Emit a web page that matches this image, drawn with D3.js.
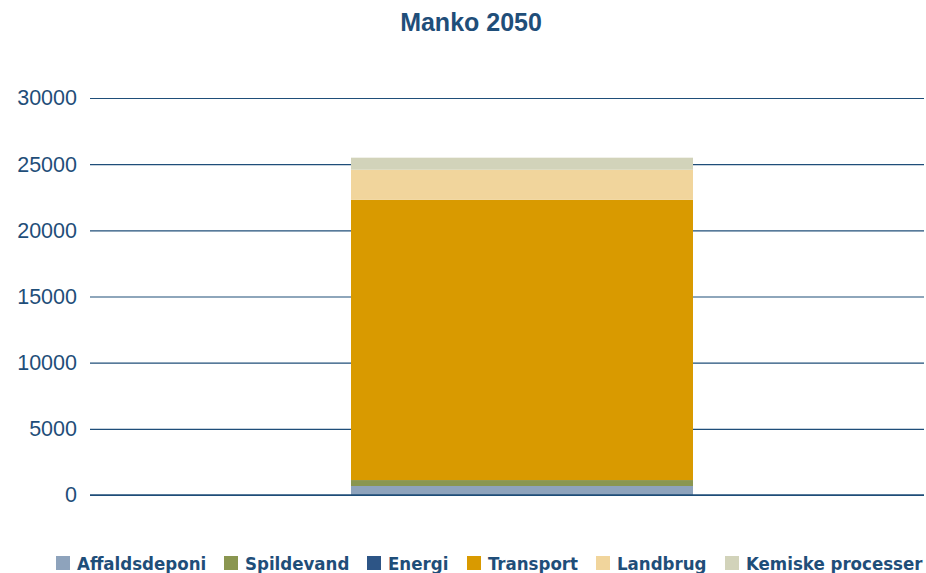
<!DOCTYPE html>
<html><head><meta charset="utf-8">
<script src="https://cdn.jsdelivr.net/npm/d3@7"></script>
<style>body{margin:0;background:#fff;} svg{display:block;}</style>
</head><body>
<svg id="c" width="926" height="573"></svg>
<script>
const categories = ["2050"];
const seriesNames = ["Affaldsdeponi","Spildevand","Energi","Transport","Landbrug","Kemiske processer"];
const affaldsdeponi = [680];
const spildevand = [450];
const energi = [0];
const transport = [21180];
const landbrug = [2270];
const kemiske = [910];
const seriesColors = ["#8ea3bc","#8a9650","#2d5586","#d99a00","#f1d59c","#d2d3ba"];
const yTicks = [0,5000,10000,15000,20000,25000,30000];
const title = "Manko 2050";

const seriesValues = [affaldsdeponi, spildevand, energi, transport, landbrug, kemiske];
const rows = categories.map((c,i)=>{const r={cat:c}; seriesNames.forEach((s,j)=>r[s]=seriesValues[j][i]); return r;});
const stack = d3.stack().keys(seriesNames)(rows);

const svg = d3.select("#c");
const textColor = "#1f4e79";
const y = d3.scaleLinear().domain([0,30000]).range([495,98]);
const x = d3.scaleBand().domain(categories).range([180,864]).paddingInner(0).paddingOuter(0.5);

svg.append("text").attr("x",471).attr("y",31).attr("text-anchor","middle")
  .attr("font-family","Liberation Sans, Arial, sans-serif").attr("font-weight","bold")
  .attr("font-size",25).attr("fill",textColor).text(title);

const gy = svg.append("g").attr("transform","translate(90,0)")
  .call(d3.axisLeft(y).tickValues(yTicks).tickSize(-834).tickPadding(13).tickFormat(d3.format("d")));
gy.select(".domain").remove();
gy.selectAll(".tick line").attr("stroke","#1f4e79").attr("stroke-width",1.2);
gy.selectAll(".tick text").attr("fill",textColor).attr("font-size",21.5)
  .attr("font-family","Liberation Sans, Arial, sans-serif");

svg.append("g").selectAll("rect").data(stack).join("rect")
  .attr("fill",(d,i)=>seriesColors[i])
  .attr("x",x(categories[0])).attr("width",x.bandwidth())
  .attr("y",d=>y(d[0][1])).attr("height",d=>y(d[0][0])-y(d[0][1]));

svg.append("line").attr("x1",90).attr("x2",924).attr("y1",y(0)).attr("y2",y(0))
  .attr("stroke","#1f4e79").attr("stroke-width",1.5);

// legend
const legX = [56, 224, 367, 467, 596, 725];
const lg = svg.append("g");
seriesNames.forEach((s,i)=>{
  lg.append("rect").attr("x",legX[i]).attr("y",556).attr("width",14).attr("height",14).attr("fill",seriesColors[i]);
  lg.append("text").attr("x",legX[i]+21).attr("y",570).attr("fill",textColor)
    .attr("font-family","DejaVu Sans, sans-serif").attr("font-stretch","condensed").attr("font-weight","bold")
    .attr("font-size",18.5).text(s);
});
</script>
</body></html>
